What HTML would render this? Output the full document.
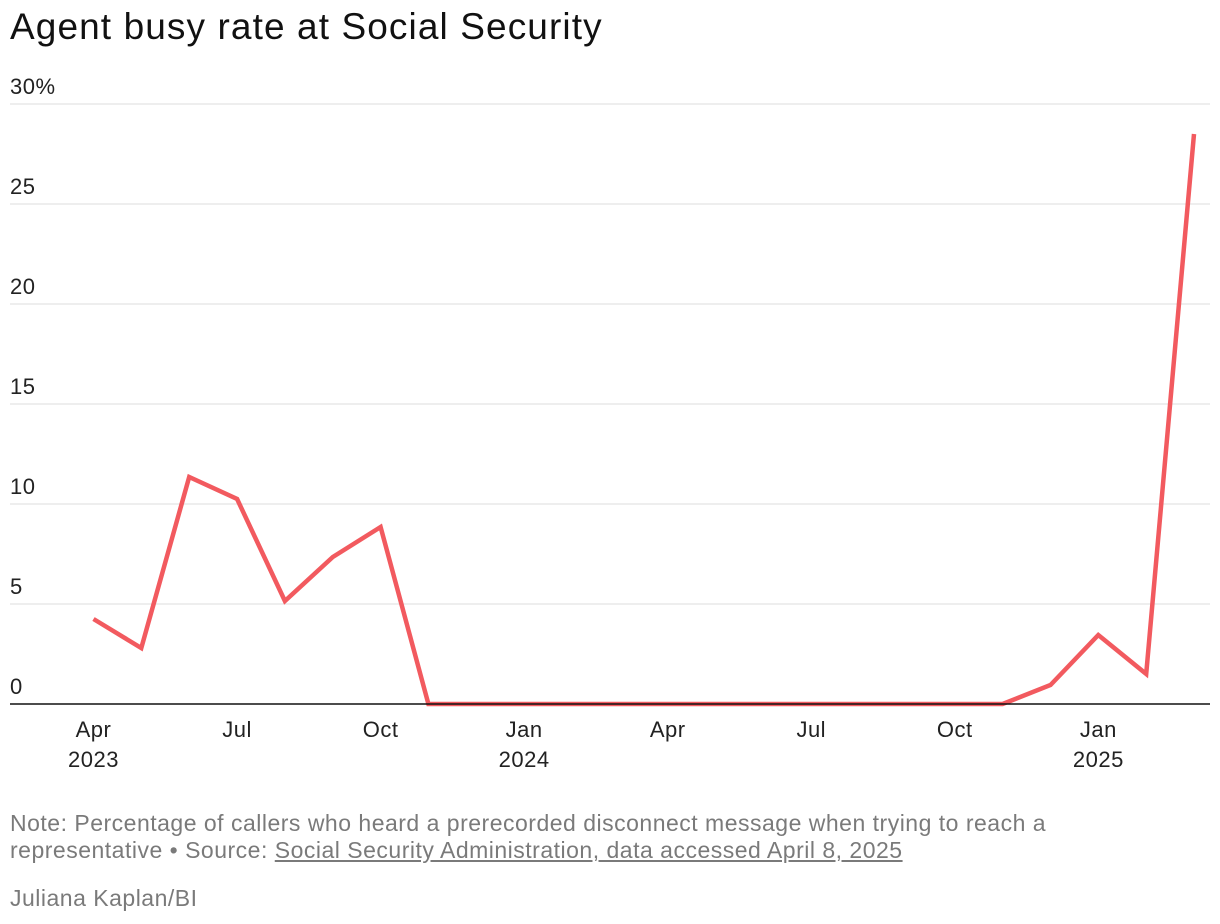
<!DOCTYPE html>
<html><head><meta charset="utf-8">
<style>
body{margin:0;background:#fff;width:1220px;height:924px;overflow:hidden;font-family:"Liberation Sans",sans-serif;}
#title{position:absolute;left:10px;top:6px;font-size:37px;color:#111;letter-spacing:1.1px;}
#note{position:absolute;left:10px;top:810px;font-size:23px;line-height:27px;color:#7a7a7a;width:1080px;letter-spacing:0.5px;}
#note a{color:#7a7a7a;text-decoration:underline;}
#credit{position:absolute;left:10px;top:885px;font-size:23px;color:#7a7a7a;letter-spacing:0.5px;}
svg{position:absolute;left:0;top:0;}
</style></head><body>
<div id="title">Agent busy rate at Social Security</div>
<svg id="chart" width="1220" height="800"></svg>
<div id="note">Note: Percentage of callers who heard a prerecorded disconnect message when trying to reach a representative • Source: <a>Social Security Administration, data accessed April 8, 2025</a></div>
<div id="credit">Juliana Kaplan/BI</div>
<script>
const months = ["2023-04","2023-05","2023-06","2023-07","2023-08","2023-09","2023-10","2023-11","2023-12","2024-01","2024-02","2024-03","2024-04","2024-05","2024-06","2024-07","2024-08","2024-09","2024-10","2024-11","2024-12","2025-01","2025-02","2025-03"];
const busyRate = [4.25,2.8,11.35,10.25,5.15,7.35,8.85,0,0,0,0,0,0,0,0,0,0,0,0,0,0.95,3.45,1.5,28.5];
const yTicks = [0,5,10,15,20,25,30];
const yTickLabels = ["0","5","10","15","20","25","30%"];
const xTickMonths = ["2023-04","2023-07","2023-10","2024-01","2024-04","2024-07","2024-10","2025-01"];
const xTickLabels = [["Apr","2023"],["Jul"],["Oct"],["Jan","2024"],["Apr"],["Jul"],["Oct"],["Jan","2025"]];

const NS="http://www.w3.org/2000/svg";
const svg=document.getElementById('chart');
function mIdx(s){const [y,m]=s.split('-').map(Number);return y*12+m-1;}
const m0=mIdx("2023-04");
function x(s){return 93.5+(mIdx(s)-m0)*47.85;}
function y(v){return 704-v*20;}
function el(t,a){const e=document.createElementNS(NS,t);for(const k in a)e.setAttribute(k,a[k]);svg.appendChild(e);return e;}

yTicks.forEach((v,i)=>{
  if(v!==0){const g=el('line',{x1:10,x2:1210,y1:y(v),y2:y(v),stroke:'#dcdcdc','stroke-width':1});
  
  }
  const t=el('text',{x:10,y:y(v)-10,'font-size':22,fill:'#222','letter-spacing':0.5,'font-family':'Liberation Sans, sans-serif'});
  t.textContent=yTickLabels[i];
  
  
});
xTickMonths.forEach((m,i)=>{
  xTickLabels[i].forEach((s,j)=>{
    const t=el('text',{x:x(m),y:737+j*30,'font-size':22,fill:'#222','text-anchor':'middle','letter-spacing':0.5,'font-family':'Liberation Sans, sans-serif'});
    t.textContent=s;
    
    
  });
});
const d=months.map((m,i)=>(i?'L':'M')+x(m).toFixed(1)+','+y(busyRate[i]).toFixed(1)).join(' ');
const p=el('path',{d:d,fill:'none',stroke:'#f25a5f','stroke-width':4.5,'stroke-linejoin':'miter','stroke-linecap':'butt'});


const base=el('line',{x1:10,x2:1210,y1:y(0),y2:y(0),stroke:'#111','stroke-width':1.5});


</script>
</body></html>
